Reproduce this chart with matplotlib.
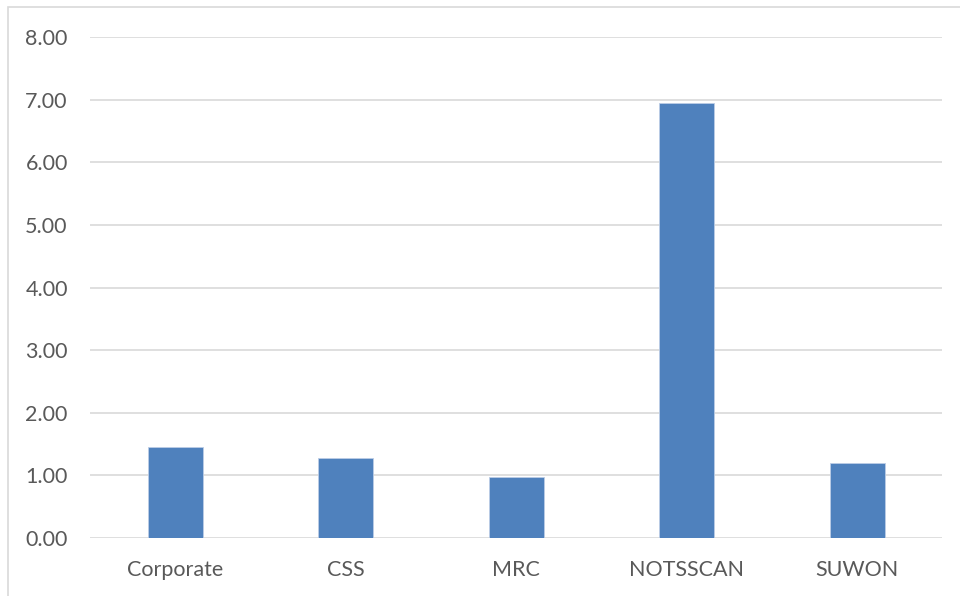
import matplotlib.pyplot as plt
from matplotlib.patches import Rectangle

# data
categories = ["Corporate", "CSS", "MRC", "NOTSSCAN", "SUWON"]
values = [1.46, 1.27, 0.98, 6.94, 1.20]
yticks = [0, 1, 2, 3, 4, 5, 6, 7, 8]

plt.rcParams['font.family'] = ['Lato', 'DejaVu Sans']

fig = plt.figure(figsize=(9.6, 5.96), dpi=100)
ax = fig.add_axes([0.09375, 0.0973, 0.888, 0.8406])

x = range(len(categories))
ax.bar(x, values, width=0.32, color="#4F81BD", edgecolor="#BCCDE6",
       linewidth=0.6, zorder=3)

ax.set_xlim(-0.5, len(categories) - 0.5)
ax.set_ylim(0, 8)
ax.set_yticks(yticks)
ax.set_yticklabels([f"{t:.2f}" for t in yticks])
ax.set_xticks(list(x))
ax.set_xticklabels(categories)

ax.grid(axis="y", color="#D9D9D9", linewidth=1.2, zorder=0)
for s in ax.spines.values():
    s.set_visible(False)
ax.tick_params(axis="both", length=0, labelsize=15.5, colors="#595959")
ax.tick_params(axis="y", pad=16)
ax.tick_params(axis="x", pad=16)

# outer chart frame
fig.patches.append(Rectangle((8 / 960, -0.01), 1.0, 1 - 7 / 596 + 0.01,
                             transform=fig.transFigure, fill=False,
                             edgecolor="#D9D9D9", linewidth=1.2))

fig.savefig("out.png", dpi=100)
